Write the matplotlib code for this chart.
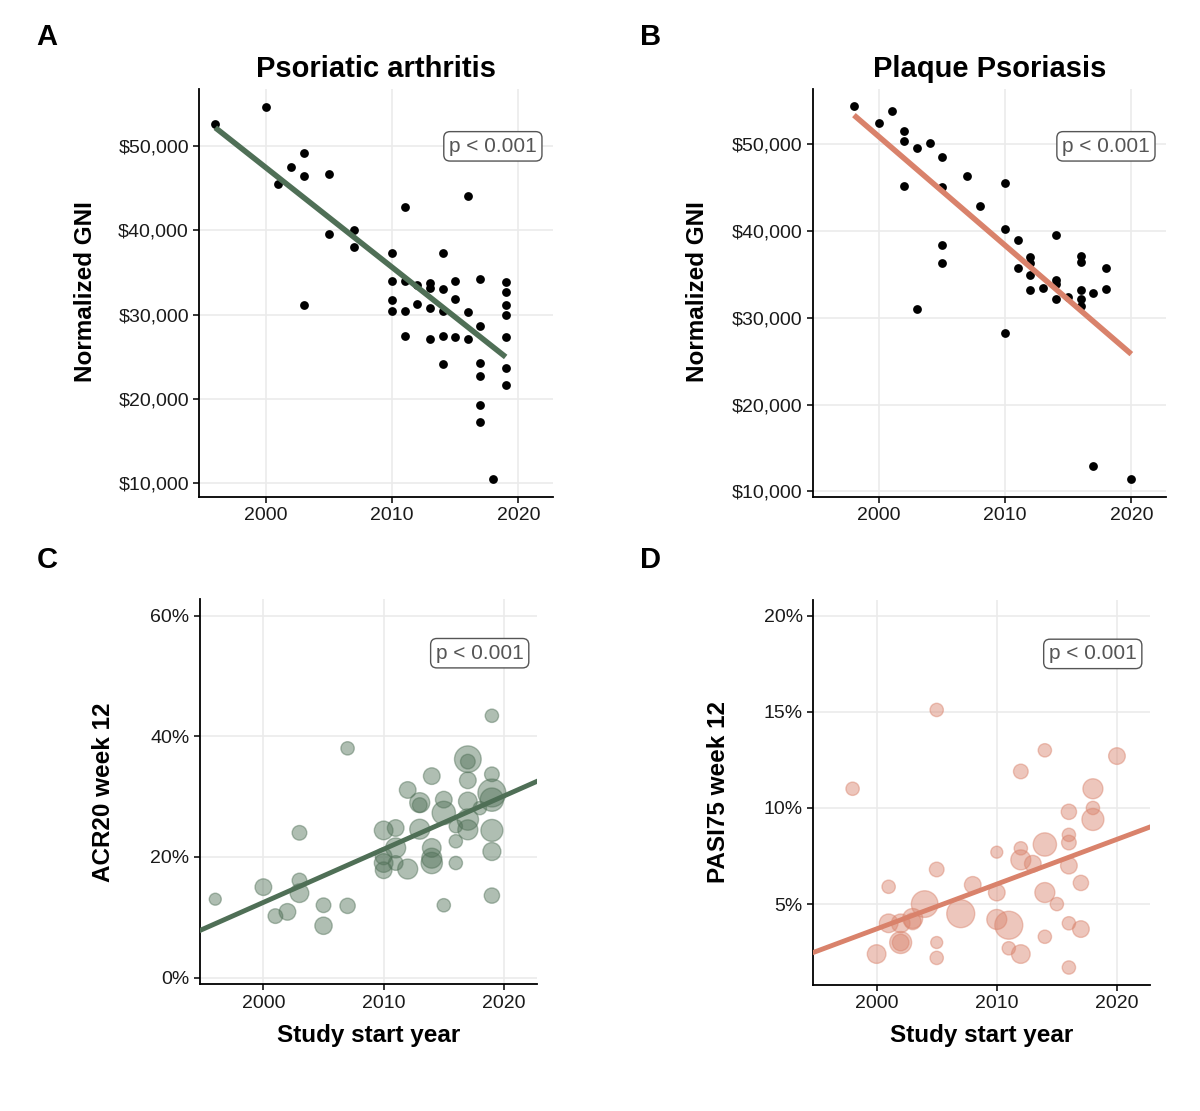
import numpy as np
import matplotlib
matplotlib.use("Agg")
import matplotlib.pyplot as plt
from matplotlib.ticker import FuncFormatter

plt.rcParams['font.family'] = ['Liberation Sans', 'DejaVu Sans']

# ---------------- data ----------------
psa_year = [1996, 2000, 2001, 2002, 2003, 2003, 2005, 2003, 2005, 2007,
            2007, 2010, 2011, 2016, 2010, 2011, 2012, 2013, 2013, 2014,
            2014, 2015, 2017, 2019, 2019, 2010, 2010, 2011, 2012, 2013,
            2014, 2015, 2016, 2019, 2019, 2011, 2013, 2014, 2015, 2016,
            2017, 2019, 2014, 2017, 2019, 2017, 2019, 2017, 2017, 2018]
psa_gni = [52600, 54600, 45500, 47500, 49200, 46400, 46600, 31100, 39500, 40000,
           38000, 37300, 42700, 44000, 34000, 34000, 33500, 33700, 33200, 37300,
           33000, 34000, 34200, 33800, 32700, 31700, 30400, 30400, 31300, 30800,
           30400, 31800, 30300, 31100, 30000, 27500, 27100, 27500, 27300, 27100,
           28600, 27300, 24100, 24200, 23700, 22700, 21700, 19300, 17300, 10500]

pso_year = [1998, 2000, 2001, 2002, 2002, 2003, 2004, 2005, 2002, 2005,
            2007, 2008, 2010, 2010, 2011, 2014, 2005, 2005, 2003, 2012,
            2012, 2011, 2012, 2012, 2013, 2014, 2014, 2014, 2015, 2016,
            2016, 2016, 2016, 2016, 2017, 2018, 2018, 2010, 2017, 2020]
pso_gni = [54400, 52500, 53800, 51500, 50400, 49600, 50200, 48600, 45200, 45100,
           46400, 42900, 45500, 40200, 39000, 39600, 38400, 36300, 31000, 37000,
           36300, 35700, 34900, 33200, 33500, 34400, 33900, 32200, 32400, 37100,
           36500, 33200, 32200, 31400, 32900, 35700, 33300, 28300, 12900, 11400]

acr_year = [1996, 2000, 2001, 2002, 2003, 2003, 2003, 2005, 2005, 2007,
            2007, 2010, 2010, 2010, 2010, 2011, 2011, 2011, 2012, 2012,
            2013, 2013, 2013, 2014, 2014, 2014, 2014, 2015, 2015, 2016,
            2016, 2016, 2015, 2017, 2017, 2017, 2017, 2017, 2017, 2018,
            2019, 2019, 2019, 2019, 2019, 2019, 2019]
acr_pct = [13.0, 15.0, 10.2, 10.9, 16.1, 14.0, 24.0, 12.0, 8.6, 11.9,
           38.0, 24.4, 19.0, 17.8, 20.1, 24.8, 21.5, 19.0, 31.1, 18.0,
           29.0, 28.6, 24.6, 33.4, 21.5, 19.8, 19.0, 29.5, 27.3, 25.1,
           22.6, 19.0, 12.0, 36.2, 35.8, 32.7, 29.2, 26.2, 24.5, 28.1,
           43.4, 33.7, 30.6, 29.5, 24.4, 20.9, 13.6]
acr_n = [324, 625, 484, 625, 484, 784, 484, 484, 676, 529,
         400, 784, 784, 625, 625, 625, 900, 484, 625, 900,
         900, 484, 900, 625, 784, 900, 1024, 625, 1225, 400,
         400, 400, 400, 1600, 484, 625, 784, 1024, 900, 400,
         400, 484, 1764, 1225, 1089, 729, 529]

pasi_year = [1998, 2005, 2001, 2000, 2001, 2002, 2002, 2002, 2003, 2003,
             2004, 2005, 2005, 2005, 2007, 2008, 2010, 2010, 2010, 2011,
             2011, 2012, 2012, 2012, 2012, 2013, 2014, 2014, 2014, 2014,
             2015, 2016, 2016, 2016, 2016, 2016, 2016, 2017, 2017, 2018,
             2018, 2018, 2020]
pasi_pct = [11.0, 15.1, 5.9, 2.4, 4.0, 4.0, 3.0, 3.0, 4.25, 4.1,
            5.0, 6.8, 3.0, 2.2, 4.5, 6.0, 7.7, 5.6, 4.2, 3.9,
            2.7, 11.9, 7.9, 7.3, 2.4, 7.1, 8.1, 13.0, 5.6, 3.3,
            5.0, 9.8, 8.6, 8.2, 7.0, 4.0, 1.7, 6.1, 3.7, 11.0,
            10.0, 9.4, 12.7]
pasi_n = [400, 400, 400, 784, 784, 784, 1089, 625, 900, 625,
          1600, 484, 324, 400, 1764, 625, 324, 625, 900, 1764,
          400, 484, 400, 900, 784, 625, 1225, 400, 900, 400,
          400, 529, 400, 484, 625, 400, 400, 529, 625, 900,
          400, 1089, 625]

# ---------------- styling ----------------
GREEN = '#4f6f56'
ORANGE = '#d9826b'
W, H = 1200, 1111
XLIM = (1994.73, 2022.75)

fig = plt.figure(figsize=(W / 100, H / 100), dpi=100)


def px_axes(l, t, r, b):
    return fig.add_axes([l / W, 1 - b / H, (r - l) / W, (b - t) / H])


def style(ax):
    ax.set_xlim(*XLIM)
    ax.set_xticks([2000, 2010, 2020])
    for s in ['top', 'right']:
        ax.spines[s].set_visible(False)
    for s in ['left', 'bottom']:
        ax.spines[s].set_linewidth(1.3)
        ax.spines[s].set_color('black')
    ax.grid(True, color='#ebebeb', linewidth=1.2)
    ax.set_axisbelow(True)
    ax.tick_params(axis='both', length=4, width=1.1, color='black',
                   labelsize=14, labelcolor='#1a1a1a', pad=3.5)


def pbox(ax):
    ax.text(0.83, 0.86, 'p < 0.001', transform=ax.transAxes, ha='center', va='center',
            fontsize=15, color='#555555',
            bbox=dict(boxstyle='round,pad=0.25,rounding_size=0.3', fc='white',
                      ec='#555555', lw=1.0))


dollar = FuncFormatter(lambda v, p: f'${v:,.0f}')
pct = FuncFormatter(lambda v, p: f'{v:.0f}%')

# Panel A
axA = px_axes(199.3, 89.3, 553, 496.7)
style(axA)
axA.scatter(psa_year, psa_gni, s=40, color='black', zorder=3, linewidths=0)
cA = np.polyfit(psa_year, psa_gni, 1)
xa = np.array([min(psa_year), max(psa_year)])
axA.plot(xa, np.polyval(cA, xa), color=GREEN, lw=4, zorder=4, solid_capstyle='butt')
axA.set_ylim(8400, 56700)
axA.set_yticks([10000, 20000, 30000, 40000, 50000])
axA.yaxis.set_major_formatter(dollar)
axA.set_title('Psoriatic arthritis', fontsize=21, fontweight='bold', pad=8.6)
pbox(axA)

# Panel B
axB = px_axes(812.7, 89.3, 1166, 496.7)
style(axB)
axB.scatter(pso_year, pso_gni, s=40, color='black', zorder=3, linewidths=0)
cB = np.polyfit(pso_year, pso_gni, 1)
xb = np.array([min(pso_year), max(pso_year)])
axB.plot(xb, np.polyval(cB, xb), color=ORANGE, lw=4, zorder=4, solid_capstyle='butt')
axB.set_ylim(9400, 56350)
axB.set_yticks([10000, 20000, 30000, 40000, 50000])
axB.yaxis.set_major_formatter(dollar)
axB.set_title('Plaque Psoriasis', fontsize=21, fontweight='bold', pad=8.6)
pbox(axB)

# Panel C
axC = px_axes(200, 599.3, 537, 984.3)
style(axC)
axC.scatter(acr_year, acr_pct, s=np.array(acr_n) * 0.23, facecolor=GREEN, alpha=0.45,
            edgecolor=GREEN, linewidths=1.0, zorder=3)
cC = np.polyfit(acr_year, acr_pct, 1, w=np.sqrt(acr_n))
xc = np.array(XLIM)
axC.plot(xc, np.polyval(cC, xc), color=GREEN, lw=3.5, zorder=4)
axC.set_ylim(-1.1, 62.7)
axC.set_yticks([0, 20, 40, 60])
axC.yaxis.set_major_formatter(pct)
pbox(axC)

# Panel D
axD = px_axes(813.3, 600, 1150, 985)
style(axD)
axD.scatter(pasi_year, pasi_pct, s=np.array(pasi_n) * 0.23, facecolor=ORANGE, alpha=0.45,
            edgecolor=ORANGE, linewidths=1.0, zorder=3)
cD = np.polyfit(pasi_year, pasi_pct, 1, w=np.sqrt(pasi_n))
axD.plot(xc, np.polyval(cD, xc), color=ORANGE, lw=3.5, zorder=4)
axD.set_ylim(0.79, 20.82)
axD.set_yticks([5, 10, 15, 20])
axD.yaxis.set_major_formatter(pct)
pbox(axD)

# axis titles
lab = dict(fontsize=17.5, fontweight='bold', rotation=90, ha='center', va='center')
fig.text(85 / W, 1 - 292 / H, 'Normalized GNI', **lab)
fig.text(698 / W, 1 - 292 / H, 'Normalized GNI', **lab)
fig.text(104 / W, 1 - 792 / H, 'ACR20 week 12', **lab)
fig.text(718 / W, 1 - 792 / H, 'PASI75 week 12', **lab)
fig.text(368.5 / W, 1 - 1042 / H, 'Study start year', fontsize=17.5, fontweight='bold',
         ha='center', va='baseline')
fig.text(981.5 / W, 1 - 1042 / H, 'Study start year', fontsize=17.5, fontweight='bold',
         ha='center', va='baseline')

# panel letters
for letter, x, y in [('A', 36, 45), ('B', 640, 45), ('C', 37, 568), ('D', 640, 568)]:
    fig.text(x / W, 1 - y / H, letter, fontsize=21, fontweight='bold', ha='left', va='baseline')

fig.savefig('out.png', dpi=100)
